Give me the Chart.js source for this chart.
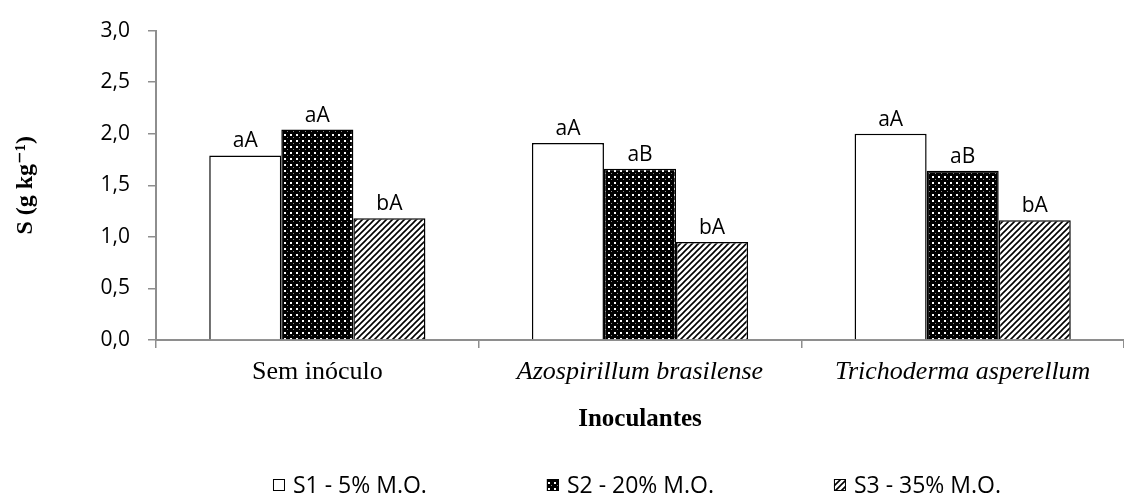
<!DOCTYPE html>
<html>
<head>
<meta charset="utf-8">
<script src="https://cdn.jsdelivr.net/npm/chart.js@4.4.1/dist/chart.umd.min.js"></script>
<style>
  html, body { margin: 0; padding: 0; background: #ffffff; }
  #wrap { width: 1124px; height: 498px; position: relative; }
</style>
</head>
<body>
<div id="wrap"><canvas id="chart"></canvas></div>
<script>
/* ── DATA ─────────────────────────────────────────────────── */
const categories = ['Sem inóculo', 'Azospirillum brasilense', 'Trichoderma asperellum'];
const seriesNames = ['S1 - 5% M.O.', 'S2 - 20% M.O.', 'S3 - 35% M.O.'];
const s1Values = [1.79, 1.91, 2.00];
const s2Values = [2.04, 1.66, 1.64];
const s3Values = [1.18, 0.95, 1.16];
const s1Letters = ['aA', 'aA', 'aA'];
const s2Letters = ['aA', 'aB', 'aB'];
const s3Letters = ['bA', 'bA', 'bA'];
const yMin = 0, yMax = 3, yStep = 0.5;

const AXIS_GRAY = '#8e8e8e';
const SANS = "'Open Sans', 'Noto Sans', sans-serif";
const SERIF = "'Liberation Serif', 'DejaVu Serif', serif";

/* ── FILL PATTERNS ────────────────────────────────────────── */
function dotPattern() {
  const c = document.createElement('canvas');
  c.width = 6; c.height = 6;
  const g = c.getContext('2d');
  g.fillStyle = '#000';
  g.fillRect(0, 0, 6, 6);
  g.fillStyle = '#ffffff';
  g.fillRect(2, 2, 2, 2);
  g.fillStyle = '#8a8a8a';
  g.fillRect(5, 5, 1, 1);
  return g.createPattern(c, 'repeat');
}

function hatchPattern() {
  const c = document.createElement('canvas');
  c.width = 6; c.height = 6;
  const g = c.getContext('2d');
  g.fillStyle = '#ffffff';
  g.fillRect(0, 0, 6, 6);
  g.strokeStyle = '#000';
  g.lineWidth = 1.6;
  g.beginPath();
  g.moveTo(-1, 7); g.lineTo(7, -1);
  g.moveTo(-4, 4); g.lineTo(4, -4);
  g.moveTo(2, 10); g.lineTo(10, 2);
  g.stroke();
  return g.createPattern(c, 'repeat');
}

const fills = ['#ffffff', dotPattern(), hatchPattern()];
const letters = [s1Letters, s2Letters, s3Letters];

/* ── PLUGINS: letters above bars + bottom legend ──────────── */
const barLetters = {
  id: 'barLetters',
  afterDatasetsDraw(chart) {
    const ctx = chart.ctx;
    ctx.save();
    ctx.font = '21px ' + SANS;
    ctx.fillStyle = '#000';
    ctx.textAlign = 'center';
    ctx.textBaseline = 'alphabetic';
    chart.data.datasets.forEach((ds, di) => {
      chart.getDatasetMeta(di).data.forEach((bar, i) => {
        ctx.fillText(letters[di][i], bar.x, bar.y - 8);
      });
    });
    ctx.restore();
  }
};

const bottomLegend = {
  id: 'bottomLegend',
  afterDraw(chart) {
    const ctx = chart.ctx;
    const box = 12, gapBox = 8, gapItem = 120, yMid = 485;
    ctx.save();
    ctx.font = '23px ' + SANS;
    const widths = seriesNames.map(t => box + gapBox + ctx.measureText(t).width);
    const total = widths.reduce((a, b) => a + b, 0) + gapItem * (widths.length - 1);
    const area = chart.chartArea;
    let x = (area.left + area.right) / 2 - 3 - total / 2;
    seriesNames.forEach((name, i) => {
      ctx.fillStyle = fills[i];
      ctx.fillRect(x, yMid - box / 2, box, box);
      ctx.strokeStyle = '#000';
      ctx.lineWidth = 1;
      ctx.strokeRect(x + 0.5, yMid - box / 2 + 0.5, box - 1, box - 1);
      ctx.fillStyle = '#000';
      ctx.textAlign = 'left';
      ctx.textBaseline = 'middle';
      ctx.fillText(name, x + box + gapBox, yMid + 1);
      x += widths[i] + gapItem;
    });
    ctx.restore();
  }
};

/* ── CHART ────────────────────────────────────────────────── */
const datasets = [s1Values, s2Values, s3Values].map((vals, i) => ({
  label: seriesNames[i],
  data: vals,
  backgroundColor: fills[i],
  borderColor: '#000000',
  borderWidth: 1.5,
  categoryPercentage: 0.67,
  barPercentage: 1.0
}));

new Chart(document.getElementById('chart'), {
  type: 'bar',
  data: { labels: categories, datasets },
  plugins: [barLetters, bottomLegend],
  options: {
    responsive: true,
    maintainAspectRatio: false,
    animation: false,
    events: [],
    layout: { padding: { top: 21, right: 0, bottom: 0, left: 0 } },
    plugins: {
      legend: { display: false },
      tooltip: { enabled: false }
    },
    scales: {
      x: {
        afterFit: scale => { scale.height = 158; },
        border: { display: true, color: AXIS_GRAY, width: 2 },
        grid: {
          display: true, drawOnChartArea: false, offset: true,
          tickLength: 8, color: AXIS_GRAY, lineWidth: 1.5
        },
        ticks: {
          color: '#000',
          padding: 9,
          maxRotation: 0,
          font: c => ({
            family: SERIF, size: 26, lineHeight: 1.2,
            style: c.index > 0 ? 'italic' : 'normal'
          })
        },
        title: {
          display: true,
          text: 'Inoculantes',
          color: '#000',
          font: { family: SERIF, size: 25, weight: 'bold', lineHeight: 1.2 },
          padding: { top: 4, bottom: 63 }
        }
      },
      y: {
        min: yMin, max: yMax,
        afterFit: scale => { scale.width = 156; },
        border: { display: true, color: AXIS_GRAY, width: 2 },
        grid: {
          display: true, drawOnChartArea: false,
          tickLength: 8, color: AXIS_GRAY, lineWidth: 1.5
        },
        ticks: {
          stepSize: yStep,
          color: '#000',
          padding: 18,
          font: { family: SANS, size: 21 },
          callback: v => v.toFixed(1).replace('.', ',')
        },
        title: {
          display: true,
          text: 'S (g kg⁻¹)',
          color: '#000',
          font: { family: SERIF, size: 24, weight: 'bold', lineHeight: 1.2 },
          padding: { top: 11, bottom: 0 }
        }
      }
    }
  }
});
</script>
</body>
</html>
